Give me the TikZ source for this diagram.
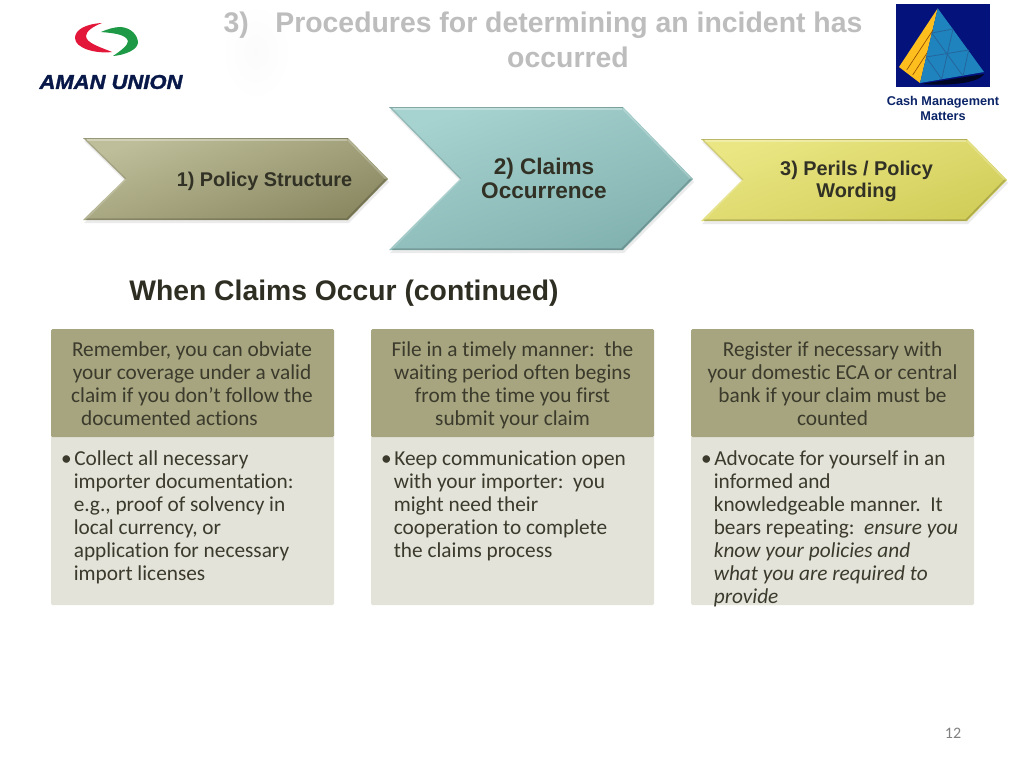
\documentclass[tikz,border=0pt]{standalone}
\usepackage{graphicx}
\usepackage{fontspec}
\setmainfont[Ligatures=NoCommon]{Carlito}
\newfontfamily\arialf{Liberation Sans}
\newfontfamily\logof[FakeBold=1.5]{Liberation Sans}
\usetikzlibrary{shadings,calc}
\definecolor{txtdark}{HTML}{3B3A2C}
\definecolor{headfill}{HTML}{A6A57F}
\definecolor{bodyfill}{HTML}{E3E3DA}
\definecolor{titlegray}{HTML}{BDBDBD}
\definecolor{navyt}{HTML}{0B2468}
\definecolor{oliveA}{HTML}{BEBE9A}
\definecolor{oliveB}{HTML}{8A8962}
\definecolor{tealA}{HTML}{A6D2CF}
\definecolor{tealB}{HTML}{82B2B0}
\definecolor{yellA}{HTML}{EAE683}
\definecolor{yellB}{HTML}{D2CE5A}
\definecolor{logored}{HTML}{E2173A}
\definecolor{logogreen}{HTML}{1E9A46}
\definecolor{pyrbg}{HTML}{04137C}
\definecolor{pyrblue}{HTML}{1F83BE}
\definecolor{pyryel}{HTML}{FDBE1E}
\definecolor{pyrline}{HTML}{24669C}
\tikzset{
  x=1pt,y=-1pt,
  headbox/.style={fill=headfill,rounded corners=1.5pt},
  bodybox/.style={fill=bodyfill,rounded corners=1.5pt},
  headtext/.style={font=\fontsize{21.3}{23}\selectfont,text=txtdark,align=center,inner sep=0pt,anchor=north},
  bodytext/.style={font=\fontsize{21.3}{23}\selectfont,text=txtdark,align=left,inner sep=0pt,anchor=north west},
  chevtext/.style={text=#1,align=center,inner sep=0pt},
  titletext/.style={font=\arialf\bfseries\fontsize{28.4}{34.5}\selectfont,text=titlegray,inner sep=0pt},
  cmmtext/.style={font=\arialf\bfseries\fontsize{12.7}{15}\selectfont,text=navyt,align=center,inner sep=0pt},
}
\newcommand{\chevshape}[9]{%
  \fill[black!22,opacity=.35] (#1+1,#4+3) -- (#2+1,#4+3) -- (#3+1,#5+3) -- (#2+1,#6+3) -- (#1+1,#6+3) -- (#7+1,#5+3) -- cycle;
  \shade[top color=#8,bottom color=#9,shading angle=20] (#1,#4) -- (#2,#4) -- (#3,#5) -- (#2,#6) -- (#1,#6) -- (#7,#5) -- cycle;
  \draw[white,opacity=.3,line width=1.5pt] (#1+4,#4+2) -- (#2-1,#4+2);
  \draw[black,opacity=.2,line width=.6pt] (#1,#4) -- (#2,#4);
  \draw[white,opacity=.22,line width=1.5pt] (#2,#4+2) -- (#3-2,#5);
  \draw[black,opacity=.18,line width=1.5pt] (#3-2,#5) -- (#2-1,#6-1) -- (#1+3,#6-1);
  \draw[black,opacity=.12,line width=1.2pt] (#1+2,#4+1) -- (#7+1,#5);
  \draw[white,opacity=.2,line width=1.2pt] (#7+1,#5) -- (#1+3,#6-1);
}
\begin{document}
\begin{tikzpicture}
\useasboundingbox (0,0) rectangle (1024,768);
\fill[white] (0,0) rectangle (1024,768);
\shade[inner color=black!1.5,outer color=white,draw=none] (256,52) ellipse [x radius=36,y radius=50];
% logo
\fill[logored] (102,23) .. controls (85,24) and (75,30) .. (75,38)
  .. controls (75,48) and (95,54) .. (112,52) .. controls (100,47) and (86,43) .. (86,36)
  .. controls (86,31) and (94,26) .. (102,23) -- cycle;
\fill[logogreen] (101,32) .. controls (108,29) and (114,27) .. (121,27)
  .. controls (132,28) and (138,36) .. (138,43) .. controls (137,50) and (125,55) .. (113,56)
  .. controls (122,50) and (128,45) .. (128,41) .. controls (126,34) and (112,33) .. (101,32) -- cycle;
\node[font=\logof\bfseries\itshape\fontsize{20}{20}\selectfont,text=navyt!70!black,inner sep=0pt] (logotext) at (111,82) {\scalebox{1.1}[1]{AMAN UNION}};
% pyramid picture
\fill[pyrbg] (896,4) rectangle (990,87);
\fill[black!70!pyrbg] (921,84) -- (984,74) .. controls (978,84) and (945,86) .. (921,84) -- cycle;
\fill[pyryel] (937.7,8.3) -- (899,67) -- (920,83) -- cycle;
\fill[pyrblue] (937.7,8.3) -- (984,72) -- (920,83) -- cycle;
\draw[orange!55!black,line width=.6pt] (933,30) -- (906.7,70) (927,53) -- (912.7,75);
\draw[pyrline,line width=.8pt] (931.7,33) -- (953,29) (926,57) -- (968.7,50)
  (953,29) -- (941.7,79) (968.7,50) -- (963,76)
  (931.7,33) -- (963,76) (926,57) -- (941.7,79);
% title
\node[titletext] (title1) at (543,25) {3)\hspace{26.5pt}Procedures for determining an incident has};
\node[titletext] (title2) at (568,57) {occurred};
\node[cmmtext] (cmm) at (943,108.5) {Cash Management\\Matters};
% chevrons
\chevshape{83}{348}{388}{138}{179}{220}{125}{oliveA}{oliveB}
\chevshape{389}{623}{693}{107}{179}{250}{460}{tealA}{tealB}
\chevshape{701}{967}{1007}{139}{180}{221}{742}{yellA}{yellB}
\node[chevtext=txtdark!85!black,font=\arialf\bfseries\fontsize{19.85}{23}\selectfont] (c1) at (264.5,181) {1) Policy Structure};
\node[chevtext=txtdark!85!black,font=\arialf\bfseries\fontsize{22.6}{24}\selectfont] (c2) at (544,178.5) {2) Claims\\Occurrence};
\node[chevtext=txtdark!85!black,font=\arialf\bfseries\fontsize{19.9}{22}\selectfont] (c3) at (856.5,181) {3) Perils / Policy\\Wording};
% heading
\node[font=\arialf\bfseries\fontsize{28.3}{30}\selectfont,text=txtdark!80!black,inner sep=0pt] (heading) at (344,293.5) {When Claims Occur (continued)};
% cards
\fill[bodybox] (51,430) rectangle (334,605);
\fill[headbox] (51,329) rectangle (334,437);
\fill[bodybox] (371,430) rectangle (654,605);
\fill[headbox] (371,329) rectangle (654,437);
\fill[bodybox] (691,430) rectangle (974,605);
\fill[headbox] (691,329) rectangle (974,437);
\node[headtext] (h1) at (192,341.5) {Remember, you can obviate\\your coverage under a valid\\claim if you don’t follow the\\documented actions\hspace*{45pt}};
\node[headtext] (h2) at (512.5,341.5) {File in a timely manner:\ \ the\\waiting period often begins\\from the time you first\\submit your claim};
\node[headtext] (h3) at (832.5,341.5) {Register if necessary with\\your domestic ECA or central\\bank if your claim must be\\counted};
\node[bodytext] (b1) at (61,451) {•\hspace{2.5pt}Collect all necessary\\\hspace*{12.6pt}importer documentation:\\\hspace*{12.6pt}e.g., proof of solvency in\\\hspace*{12.6pt}local currency, or\\\hspace*{12.6pt}application for necessary\\\hspace*{12.6pt}import licenses};
\node[bodytext] (b2) at (381,451) {•\hspace{2.5pt}Keep communication open\\\hspace*{12.6pt}with your importer:\ \ you\\\hspace*{12.6pt}might need their\\\hspace*{12.6pt}cooperation to complete\\\hspace*{12.6pt}the claims process};
\node[bodytext] (b3) at (701,451) {•\hspace{2.5pt}Advocate for yourself in an\\\hspace*{12.6pt}informed and\\\hspace*{12.6pt}knowledgeable manner.\ \ It\\\hspace*{12.6pt}bears repeating:\ \ \textit{ensure you}\\\hspace*{12.6pt}\textit{know your policies and}\\\hspace*{12.6pt}\textit{what you are required to}\\\hspace*{12.6pt}\textit{provide}};
\node[font=\fontsize{16}{18}\selectfont,text=black!50,inner sep=0pt] (pageno) at (953,733) {12};
\end{tikzpicture}
\end{document}
